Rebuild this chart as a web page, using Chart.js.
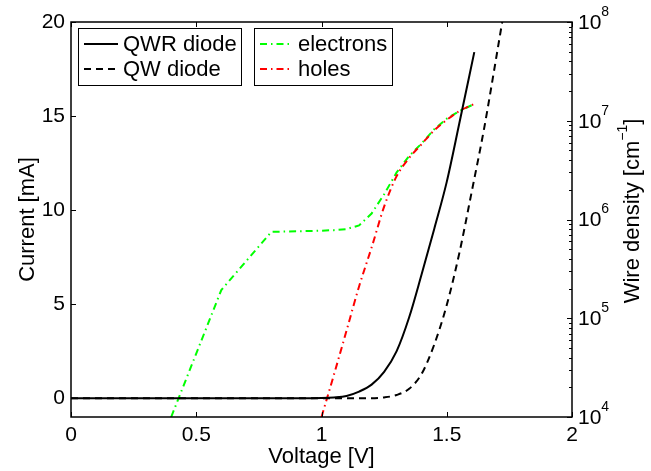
<!DOCTYPE html>
<html>
<head>
<meta charset="utf-8">
<script src="https://cdn.jsdelivr.net/npm/chart.js@4/dist/chart.umd.min.js"></script>
<style>
  html, body { margin: 0; padding: 0; background: #fff; }
  canvas { display: block; }
</style>
</head>
<body>
<canvas id="ivChart" width="651" height="471"></canvas>
<script>
// QWR diode current (left axis, mA)
const qwrVoltage = [0, 0.9, 1.0, 1.05, 1.1, 1.15, 1.2, 1.25, 1.3, 1.35, 1.4, 1.45, 1.5, 1.55, 1.61];
const qwrCurrent = [0, 0, 0.01, 0.04, 0.12, 0.35, 0.72, 1.4, 2.5, 4.3, 6.6, 9.0, 11.5, 14.6, 18.4];

// QW diode current (left axis, mA)
const qwVoltage = [0, 1.2, 1.25, 1.3, 1.35, 1.4, 1.45, 1.5, 1.55, 1.6, 1.65, 1.7, 1.75];
const qwCurrent = [0, 0, 0.04, 0.17, 0.5, 1.3, 2.85, 4.95, 7.7, 11.0, 14.4, 18.3, 22.3];

// electron wire density (right axis, cm^-1)
const elecVoltage = [0.4, 0.6, 0.8, 0.9, 1.0, 1.05, 1.1, 1.15, 1.2, 1.25, 1.3, 1.35, 1.4, 1.45, 1.5, 1.55, 1.61];
const elecDensity = [1.0e4, 1.93e5, 7.5e5, 7.6e5, 7.7e5, 7.8e5, 8.0e5, 8.7e5, 1.15e6, 1.8e6, 3.0e6, 4.4e6, 5.9e6, 8.2e6, 1.05e7, 1.25e7, 1.48e7];

// hole wire density (right axis, cm^-1)
const holeVoltage = [1.0, 1.05, 1.1, 1.15, 1.2, 1.25, 1.3, 1.35, 1.4, 1.45, 1.5, 1.55, 1.61];
const holeDensity = [1.0e4, 2.7e4, 7.5e4, 2.1e5, 5.2e5, 1.35e6, 2.75e6, 4.2e6, 5.8e6, 8.0e6, 1.02e7, 1.25e7, 1.48e7];

const xTicks = [0, 0.5, 1, 1.5, 2];
const yTicks = [0, 5, 10, 15, 20];
const densityExponents = [4, 5, 6, 7, 8];

const toPoints = (xs, ys) => xs.map((x, i) => ({ x: x, y: ys[i] }));

const FONT = '"Liberation Sans", Arial, Helvetica, sans-serif';
const DASH = [7, 5];
const DASH_DOT = [7, 4, 1.5, 4];

const ctx = document.getElementById('ivChart').getContext('2d');

// two MATLAB-style legend boxes
const legendBoxes = {
    id: 'legendBoxes',
    afterDraw(chart) {
        const c = chart.ctx;
        const ds = chart.data.datasets;
        const boxes = [
            { x: 78, w: 163, items: [ds[0], ds[1]], lx: 84, lw: 34, tx: 123 },
            { x: 254, w: 138, items: [ds[2], ds[3]], lx: 260, lw: 33, tx: 298 }
        ];
        const rows = [44, 69];
        c.save();
        boxes.forEach(b => {
            c.fillStyle = '#fff';
            c.fillRect(b.x, 28, b.w, 57);
            c.strokeStyle = '#000';
            c.lineWidth = 1;
            c.setLineDash([]);
            c.strokeRect(b.x + 0.5, 28.5, b.w, 57);
            b.items.forEach((d, i) => {
                c.beginPath();
                c.strokeStyle = d.borderColor;
                c.lineWidth = d.borderWidth;
                c.setLineDash(d.borderDash || []);
                c.moveTo(b.lx, rows[i]);
                c.lineTo(b.lx + b.lw, rows[i]);
                c.stroke();
                c.setLineDash([]);
                c.fillStyle = '#000';
                c.font = '22px ' + FONT;
                c.textBaseline = 'middle';
                c.textAlign = 'left';
                c.fillText(d.label, b.tx, rows[i] + 1);
            });
        });
        c.restore();
    }
};

// box, inward ticks, log tick labels and right title
const frameAndTicks = {
    id: 'frameAndTicks',
    afterDatasetsDraw(chart) {
        const c = chart.ctx;
        const a = chart.chartArea;
        const sx = chart.scales.x, sy = chart.scales.y, sr = chart.scales.y1;
        c.save();
        c.strokeStyle = '#000';
        c.lineWidth = 1;
        c.beginPath();
        xTicks.forEach(v => {
            const px = Math.round(sx.getPixelForValue(v)) + 0.5;
            c.moveTo(px, a.bottom); c.lineTo(px, a.bottom - 5);
            c.moveTo(px, a.top); c.lineTo(px, a.top + 5);
        });
        yTicks.forEach(v => {
            const py = Math.round(sy.getPixelForValue(v)) + 0.5;
            c.moveTo(a.left, py); c.lineTo(a.left + 5, py);
        });
        densityExponents.forEach((e, k) => {
            for (let m = 1; m <= 9; m++) {
                if (k === densityExponents.length - 1 && m > 1) break;
                const py = Math.round(sr.getPixelForValue(m * Math.pow(10, e))) + 0.5;
                const len = m === 1 ? 5 : 3;
                c.moveTo(a.right, py); c.lineTo(a.right - len, py);
            }
        });
        c.stroke();
        c.lineWidth = 1.5;
        c.strokeRect(a.left, a.top, a.right - a.left, a.bottom - a.top);

        c.fillStyle = '#000';
        c.textAlign = 'left';
        c.textBaseline = 'middle';
        densityExponents.forEach(e => {
            const py = sr.getPixelForValue(Math.pow(10, e));
            c.font = '21px ' + FONT;
            c.fillText('10', a.right + 6, py + 1);
            const w = c.measureText('10').width;
            c.font = '14px ' + FONT;
            c.fillText(String(e), a.right + 6 + w, py - 10);
        });

        // right axis title, reads bottom to top
        c.translate(633, 211);
        c.rotate(-Math.PI / 2);
        const main = 'Wire density [cm';
        const sup = '\u22121';
        c.font = '22px ' + FONT;
        const w1 = c.measureText(main).width;
        const w3 = c.measureText(']').width;
        c.font = '14px ' + FONT;
        const w2 = c.measureText(sup).width;
        let x0 = -(w1 + w2 + w3) / 2;
        c.font = '22px ' + FONT;
        c.fillText(main, x0, 0);
        c.font = '14px ' + FONT;
        c.fillText(sup, x0 + w1, -10);
        c.font = '22px ' + FONT;
        c.fillText(']', x0 + w1 + w2, 0);
        c.restore();
    }
};

const ivChart = new Chart(ctx, {
    type: 'line',
    data: {
        datasets: [
            {
                label: 'QWR diode',
                data: toPoints(qwrVoltage, qwrCurrent),
                yAxisID: 'y',
                borderColor: '#000',
                borderWidth: 2,
                cubicInterpolationMode: 'monotone',
                order: 0
            },
            {
                label: 'QW diode',
                data: toPoints(qwVoltage, qwCurrent),
                yAxisID: 'y',
                borderColor: '#000',
                borderWidth: 2,
                borderDash: DASH,
                cubicInterpolationMode: 'monotone',
                order: 1
            },
            {
                label: 'electrons',
                data: toPoints(elecVoltage, elecDensity),
                yAxisID: 'y1',
                borderColor: '#00ff00',
                borderWidth: 2,
                borderDash: DASH_DOT,
                tension: 0,
                order: 3
            },
            {
                label: 'holes',
                data: toPoints(holeVoltage, holeDensity),
                yAxisID: 'y1',
                borderColor: '#ff0000',
                borderWidth: 2,
                borderDash: DASH_DOT,
                cubicInterpolationMode: 'monotone',
                order: 2
            }
        ]
    },
    options: {
        responsive: false,
        animation: false,
        parsing: false,
        layout: { padding: { top: 22, left: 0, right: 0, bottom: 0 } },
        elements: {
            point: { radius: 0, hoverRadius: 0 },
            line: { fill: false }
        },
        plugins: {
            legend: { display: false },
            tooltip: { enabled: false }
        },
        scales: {
            x: {
                type: 'linear',
                min: 0,
                max: 2,
                afterBuildTicks: s => { s.ticks = xTicks.map(v => ({ value: v })); },
                afterFit: s => { s.height = 54; },
                grid: { display: false, drawTicks: false },
                border: { display: false },
                ticks: {
                    color: '#000', font: { size: 21, family: FONT }, padding: 6, maxRotation: 0,
                    callback: v => String(v)
                },
                title: { display: true, text: 'Voltage [V]', color: '#000', font: { size: 22, family: FONT }, padding: { top: 0, bottom: 1 } }
            },
            y: {
                type: 'linear',
                position: 'left',
                min: -1,
                max: 20,
                afterBuildTicks: s => { s.ticks = yTicks.map(v => ({ value: v })); },
                afterFit: s => { s.width = 71; },
                grid: { display: false, drawTicks: false },
                border: { display: false },
                ticks: { color: '#000', font: { size: 21, family: FONT }, padding: 6, callback: v => String(v) },
                title: { display: true, text: 'Current [mA]', color: '#000', font: { size: 22, family: FONT }, padding: { top: 15, bottom: 0 } }
            },
            y1: {
                type: 'logarithmic',
                position: 'right',
                min: 1e4,
                max: 1e8,
                afterBuildTicks: s => { s.ticks = densityExponents.map(e => ({ value: Math.pow(10, e) })); },
                afterFit: s => { s.width = 79; },
                grid: { display: false, drawTicks: false },
                border: { display: false },
                ticks: { display: false }
            }
        }
    },
    plugins: [frameAndTicks, legendBoxes]
});
</script>
</body>
</html>
